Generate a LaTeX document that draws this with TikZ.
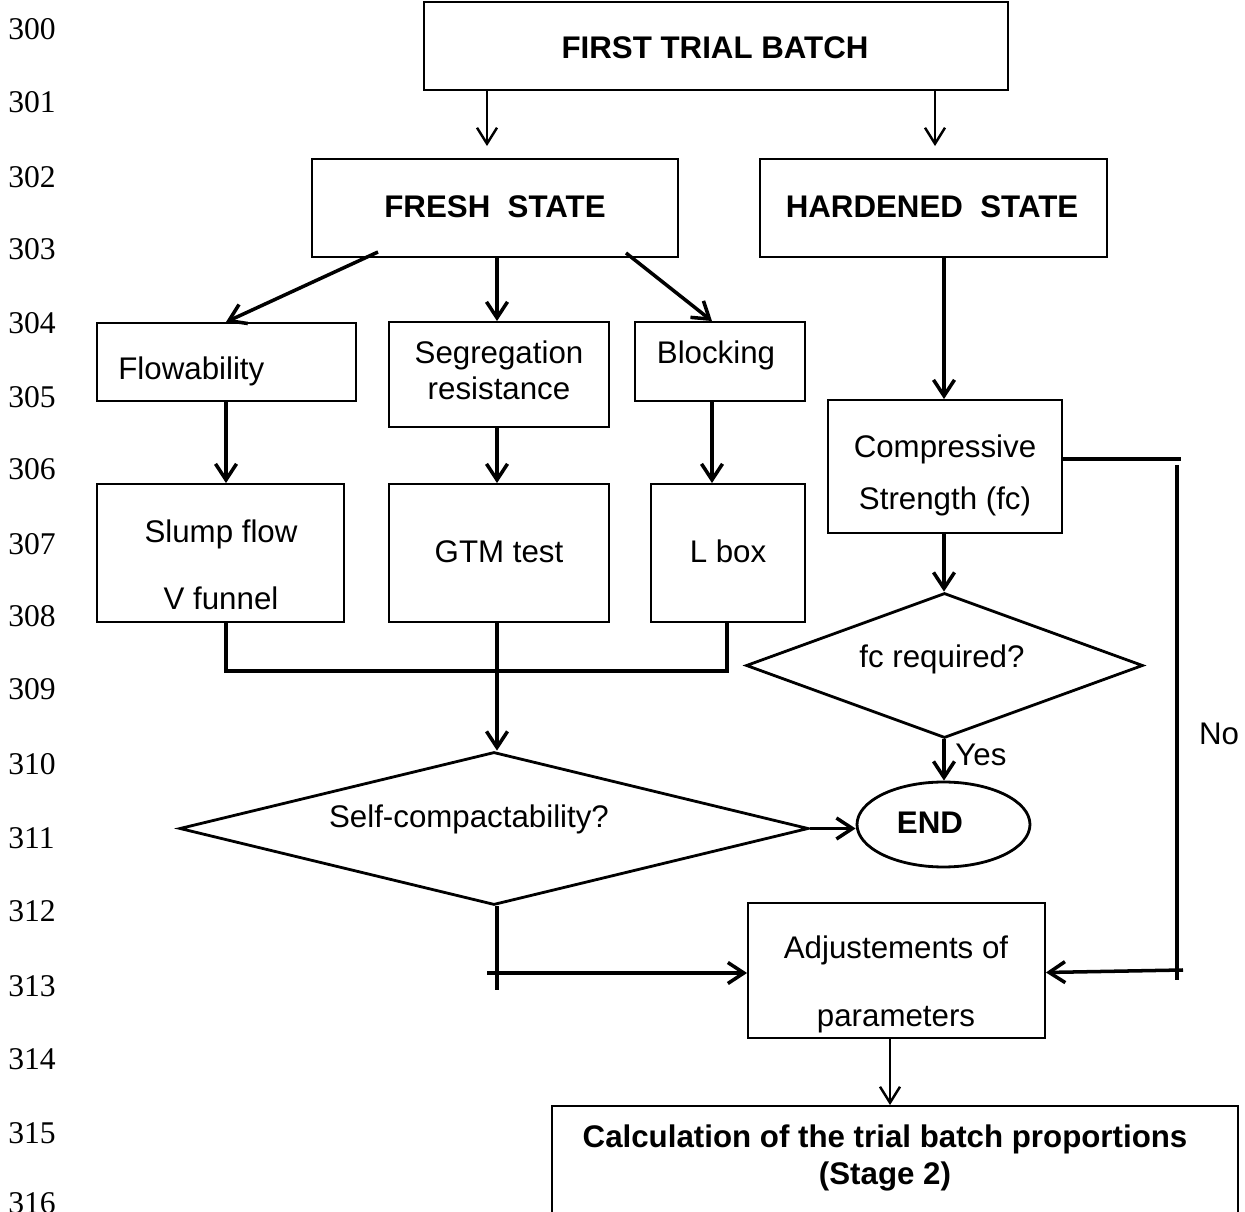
\documentclass[tikz,border=0pt]{standalone}
\usepackage{fontspec}
\setmainfont{Liberation Sans}
\newfontfamily\numfont{Liberation Serif}
\usetikzlibrary{arrows.meta,shapes.geometric}

\begin{document}
\begin{tikzpicture}[x=0.02cm,y=-0.02cm,
  box/.style={draw,line width=1.1pt,inner sep=0pt,rectangle},
  txt/.style={inner sep=0pt,text height=12.74pt,text depth=0pt,
    font=\fontsize{17.8}{21}\selectfont},
  btxt/.style={txt,font=\fontsize{17.8}{21}\selectfont\bfseries},
  lnum/.style={inner sep=0pt,text height=11.9pt,text depth=0pt,anchor=west,
    font=\numfont\fontsize{18}{21}\selectfont},
  conn/.style={line width=2pt},
  arr/.style={line width=2pt,-{Straight Barb[length=0.32cm,width=0.42cm]}},
  thinarr/.style={line width=1.4pt,-{Straight Barb[length=0.32cm,width=0.4cm]}},
  decision/.style={draw,diamond,line width=1.6pt,inner sep=0pt},
]
\fill[white] (0,0) rectangle (1245,1212);
\useasboundingbox (0,0) rectangle (1245,1212);

% line numbers in the margin
\foreach \n/\yy in {300/29,301/102,302/177,303/249,304/323,305/397,306/469,
  307/544,308/616,309/689,310/764,311/838,312/911,313/986,314/1059,
  315/1133,316/1203}
  \node[lnum] (ln\n) at (8,\yy) {\n};

% boxes
\node[box,minimum width=11.68cm,minimum height=1.76cm] (top) at (716,46) {};
\node[btxt] (toptxt) at (715,47) {FIRST TRIAL BATCH};

\node[box,minimum width=7.32cm,minimum height=1.96cm] (fresh) at (495,208) {};
\node[btxt] (freshtxt) at (495,206) {FRESH\ \ STATE};

\node[box,minimum width=6.94cm,minimum height=1.96cm] (hard) at (933.5,208) {};
\node[btxt] (hardtxt) at (932,206) {HARDENED\ \ STATE};

\node[box,minimum width=5.18cm,minimum height=1.56cm] (flow) at (226.5,362) {};
\node[txt,anchor=west] (flowtxt) at (118,368) {Flowability};

\node[box,minimum width=4.4cm,minimum height=2.1cm] (seg) at (499,374.5) {};
\node[txt] (segtxt1) at (499,352) {Segregation};
\node[txt] (segtxt2) at (499,388) {resistance};

\node[box,minimum width=3.4cm,minimum height=1.58cm] (block) at (720,361.5) {};
\node[txt] (blocktxt) at (716,352) {Blocking};

\node[box,minimum width=4.94cm,minimum height=2.76cm] (slump) at (220.5,553) {};
\node[txt] (slumptxt1) at (221,531) {Slump flow};
\node[txt] (slumptxt2) at (221,598) {V funnel};

\node[box,minimum width=4.4cm,minimum height=2.76cm] (gtm) at (499,553) {};
\node[txt] (gtmtxt) at (499,551) {GTM test};

\node[box,minimum width=3.08cm,minimum height=2.76cm] (lbox) at (728,553) {};
\node[txt] (lboxtxt) at (728,551) {L box};

\node[box,minimum width=4.68cm,minimum height=2.66cm] (comp) at (945,466.5) {};
\node[txt] (comptxt1) at (945,446) {Compressive};
\node[txt] (comptxt2) at (945,498) {Strength (fc)};

\node[decision,minimum width=7.94cm,minimum height=2.9cm] (fcd) at (944.5,665.5) {};
\node[txt] (fcdtxt) at (942,656) {fc required?};

\node[decision,minimum width=12.58cm,minimum height=3.06cm] (selfd) at (494,828.5) {};
\node[txt] (selfdtxt) at (469,816) {Self-compactability?};

\node[draw,ellipse,line width=1.6pt,inner sep=0pt,minimum width=3.46cm,
  minimum height=1.7cm] (endn) at (943.5,824.5) {};
\node[btxt] (endtxt) at (930,822) {END};

\node[box,minimum width=5.94cm,minimum height=2.7cm] (adj) at (896.5,970.5) {};
\node[txt] (adjtxt1) at (896,947) {Adjustements of};
\node[txt] (adjtxt2) at (896,1015) {parameters};

\node[box,minimum width=13.72cm,minimum height=2.6cm] (calc) at (895,1171) {};
\node[btxt] (calctxt1) at (885,1136) {Calculation of the trial batch proportions};
\node[btxt] (calctxt2) at (885,1173) {(Stage 2)};

% connector columns and free ends
\coordinate (cA) at (487,0);
\coordinate (cB) at (935,0);
\coordinate (cF) at (226,0);
\coordinate (cS) at (497,0);
\coordinate (cL) at (712,0);
\coordinate (cR) at (727,0);
\coordinate (cH) at (944,0);
\coordinate (cD) at (890,0);
\coordinate (fl1) at (378,252);
\coordinate (fl2) at (626,253);
\coordinate (merge) at (497,671);
\coordinate (sdown) at (497,990);
\coordinate (sleft) at (487,973);
\coordinate (noA) at (1181,459);
\coordinate (noB) at (1177,465);
\coordinate (noC) at (1177,980);
\coordinate (noD) at (1183,970);

% first trial batch to the two states
\draw[thinarr] (top.south -| cA) -- ([yshift=0.24cm]fresh.north -| cA);
\draw[thinarr] (top.south -| cB) -- ([yshift=0.24cm]hard.north -| cB);

% fresh state to its three properties
\draw[arr] (fl1) -- (flow.north -| cF);
\draw[arr] (fresh.south -| cS) -- (seg.north -| cS);
\draw[arr] (fl2) -- (block.north -| cL);

% properties to tests
\draw[arr] (flow.south -| cF) -- (slump.north -| cF);
\draw[arr] (seg.south -| cS) -- (gtm.north -| cS);
\draw[arr] (block.south -| cL) -- (lbox.north -| cL);

% tests gathered into the decision
\draw[conn] (slump.south -| cF) |- (merge) -| (lbox.south -| cR);
\draw[arr] (gtm.south -| cS) -- (selfd.north -| cS);

% hardened branch
\draw[arr] (hard.south -| cH) -- (comp.north -| cH);
\draw[arr] (comp.south -| cH) -- (fcd.north -| cH);
\draw[arr] (fcd.south -| cH) -- (endn.north -| cH);
\node[txt,anchor=west] (yes) at (955,754) {Yes};

% self-compactability outcomes
\draw[arr] (selfd.east) -- (endn.west |- selfd.east);
\draw[conn] (selfd.south -| cS) -- (sdown);
\draw[arr] (sleft) -- (adj.west |- sleft);

% "No" loop back to the adjustments
\draw[conn] (comp.east |- noA) -- (noA);
\draw[conn] (noB) -- (noC);
\draw[arr] (noD) -- ([yshift=-0.05cm]adj.east |- noD);
\node[txt] (no) at (1219,733) {No};

% adjustments to stage 2
\draw[thinarr] (adj.south -| cD) -- (calc.north -| cD);
\end{tikzpicture}
\end{document}
